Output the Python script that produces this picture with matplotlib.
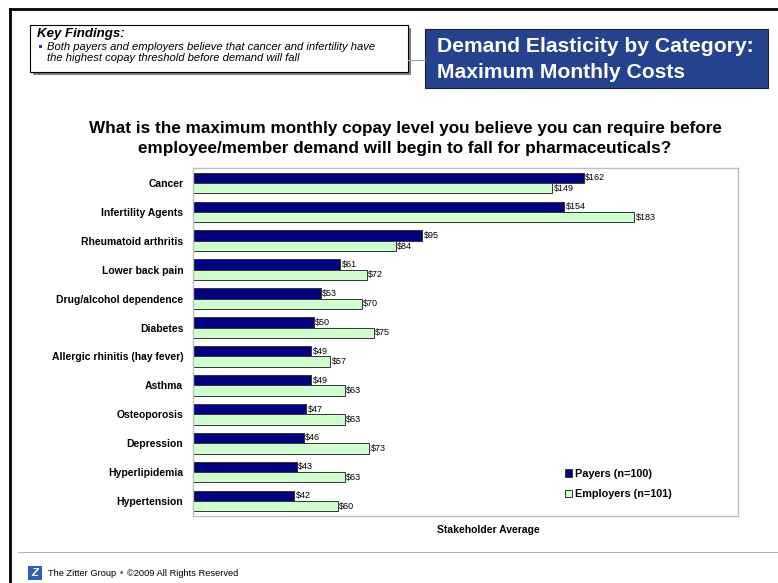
import matplotlib
matplotlib.use("Agg")
import matplotlib.pyplot as plt
from matplotlib.patches import Rectangle
import numpy as np

plt.rcParams["font.family"] = ["Liberation Sans", "DejaVu Sans"]

categories = ["Cancer", "Infertility Agents", "Rheumatoid arthritis", "Lower back pain",
              "Drug/alcohol dependence", "Diabetes", "Allergic rhinitis (hay fever)",
              "Asthma", "Osteoporosis", "Depression", "Hyperlipidemia", "Hypertension"]
payers = [162, 154, 95, 61, 53, 50, 49, 49, 47, 46, 43, 42]
employers = [149, 183, 84, 72, 70, 75, 57, 63, 63, 73, 63, 60]
series_names = ["Payers (n=100)", "Employers (n=101)"]

W, H = 778, 583
fig = plt.figure(figsize=(W / 100, H / 100), dpi=100)


def px(x, y):
    # pixel coords (top-left origin) -> figure fraction
    return x / W, 1 - y / H


# page frame lines
fig.add_artist(plt.Line2D([10 / W, 1], [1 - 9 / H] * 2, color="black", lw=2))
fig.add_artist(plt.Line2D([10 / W] * 2, [1 - 9 / H, 0], color="black", lw=2))
fig.add_artist(plt.Line2D([408 / W, 425 / W], [1 - 60 / H] * 2, color="#A0A0A0", lw=0.8))

# key findings box with shadow
fig.add_artist(Rectangle(px(33, 75), 378 / W, 47 / H, facecolor="#808080",
                         edgecolor="none", transform=fig.transFigure))
fig.add_artist(Rectangle(px(30, 72), 378 / W, 47 / H, facecolor="white",
                         edgecolor="black", lw=0.8, transform=fig.transFigure))
fig.text(*px(37, 34), "Key Findings:", fontsize=9.5, fontweight="bold",
         style="italic", va="center")
fig.add_artist(Rectangle(px(39, 48), 3 / W, 3 / H, facecolor="#25428F",
                         edgecolor="none", transform=fig.transFigure))
fig.text(*px(47, 47), "Both payers and employers believe that cancer and infertility have",
         fontsize=8.1, style="italic", va="center")
fig.text(*px(47, 58), "the highest copay threshold before demand will fall",
         fontsize=8.1, style="italic", va="center")

# title box
fig.add_artist(Rectangle(px(425, 88), 343 / W, 59 / H, facecolor="#25428F",
                         edgecolor="#202020", lw=0.8, transform=fig.transFigure))
fig.text(*px(437, 46), "Demand Elasticity by Category:", fontsize=15.2,
         fontweight="bold", color="white", va="center")
fig.text(*px(437, 73), "Maximum Monthly Costs", fontsize=15.2,
         fontweight="bold", color="white", va="center")

# question
fig.text(*px(405, 128), "What is the maximum monthly copay level you believe you can require before",
         fontsize=12.3, fontweight="bold", ha="center", va="center")
fig.text(*px(405, 148), "employee/member demand will begin to fall for pharmaceuticals?",
         fontsize=12.3, fontweight="bold", ha="center", va="center")

# chart
left, right, top, bottom = 193, 738, 168, 516
ax = fig.add_axes([left / W, 1 - bottom / H, (right - left) / W, (bottom - top) / H])
y = np.arange(len(categories))
h = 0.36
ax.barh(y - h / 2, payers, height=h, color="#000080", edgecolor="#333333",
        lw=0.7, label=series_names[0])
ax.barh(y + h / 2, employers, height=h, color="#CCFFCC", edgecolor="#333333",
        lw=0.7, label=series_names[1])
for i in range(len(categories)):
    ax.text(payers[i] + 0.6, y[i] - h / 2, f"${payers[i]}", fontsize=6.5, va="center")
    ax.text(employers[i] + 0.6, y[i] + h / 2, f"${employers[i]}", fontsize=6.5, va="center")
ax.set_xlim(0, 226)
ax.set_ylim(len(categories) - 0.48, -0.52)
ax.set_yticks(y)
ax.set_yticklabels(categories, fontsize=7.5, fontweight="bold")
ax.tick_params(axis="y", length=0, pad=7)
ax.set_xticks([])
for s in ax.spines.values():
    s.set_color("#BFBFBF")
    s.set_linewidth(1)

ax.legend(loc="lower left", bbox_to_anchor=(0.664, 0.02), frameon=False,
          prop={"weight": "bold", "size": 7.8}, handlelength=0.7,
          handleheight=0.7, handletextpad=0.3, labelspacing=0.95)

fig.text(*px(488, 530), "Stakeholder Average", fontsize=7.5, fontweight="bold",
         ha="center", va="center")

# footer
fig.add_artist(plt.Line2D([18 / W, 1], [1 - 552 / H] * 2, color="#B0B0B0", lw=0.8))
fig.add_artist(Rectangle(px(28, 580), 14 / W, 14 / H, facecolor="#2E5FB8",
                         edgecolor="none", transform=fig.transFigure))
fig.text(*px(35, 573), "Z", fontsize=8, color="white", ha="center", va="center",
         fontweight="bold", style="italic")
fig.text(*px(48, 573), "The Zitter Group", fontsize=6.7, va="center")
fig.text(*px(120, 573), "\u2022", fontsize=7, va="center", color="#2E5FB8")
fig.text(*px(127, 573), "\u00a92009 All Rights Reserved", fontsize=6.7, va="center")

fig.savefig("out.png", dpi=100)
